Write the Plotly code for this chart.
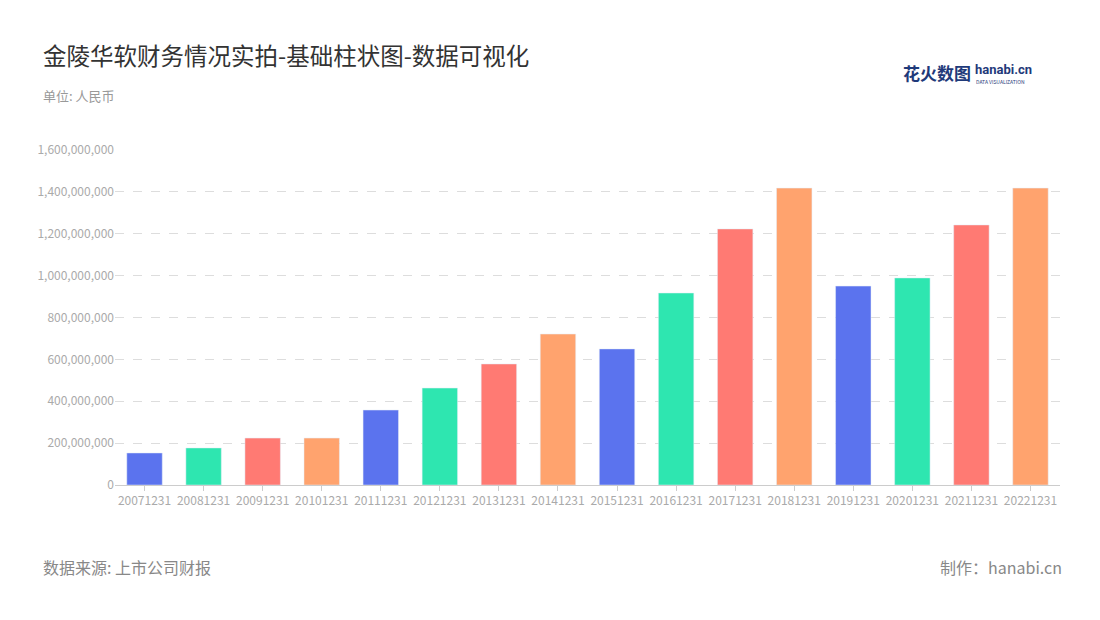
import plotly.graph_objects as go

years = ["20071231", "20081231", "20091231", "20101231", "20111231", "20121231",
         "20131231", "20141231", "20151231", "20161231", "20171231", "20181231",
         "20191231", "20201231", "20211231", "20221231"]
values = [153e6, 177e6, 224e6, 224e6, 358e6, 463e6, 578e6, 721e6, 650e6, 917e6,
          1223e6, 1418e6, 950e6, 989e6, 1242e6, 1418e6]
palette = ["#5B73EE", "#2EE6B0", "#FF7A73", "#FFA36E"]
colors = [palette[i % 4] for i in range(len(years))]

W, H = 1100, 620
L, R, T, B = 107, 48, 142, 143
OFF = 8  # page body margin

def px(x, y):
    return dict(xref="paper", yref="paper", yanchor="middle",
                x=(x - OFF - L) / (W - L - R),
                y=1 - (y - OFF - T) / (H - T - B))

font = "Noto Sans CJK SC"
fig = go.Figure(go.Bar(x=years, y=values, marker_color=colors, width=0.6))
ann = [
    dict(text="金陵华软财务情况实拍-基础柱状图-数据可视化", xanchor="left",
         font=dict(size=23.5, color="#333"), **px(41, 55)),
    dict(text="单位: 人民币", xanchor="left", font=dict(size=13, color="#999"), **px(41, 96)),
    dict(text="数据来源: 上市公司财报", xanchor="left",
         font=dict(size=16, color="#888"), **px(41, 567)),
    dict(text="制作：hanabi.cn", xanchor="right",
         font=dict(size=16, color="#888"), **px(1064, 567)),
    dict(text="<b>花火数图</b>", xanchor="right",
         font=dict(size=17, color="#1f3a7a"), **px(973, 73)),
    dict(text="<b>hanabi.cn</b>", xanchor="left",
         font=dict(size=13, color="#1f3a7a", family="Roboto"), **px(973, 70)),
    dict(text="DATA VISUALIZATION", xanchor="left",
         font=dict(size=5, color="#1f3a7a"), **px(974, 81)),
]
for a in ann:
    a["showarrow"] = False
fig.update_layout(
    width=W, height=H, plot_bgcolor="white", paper_bgcolor="white",
    margin=dict(l=L, r=R, t=T, b=B),
    font=dict(family=font, color="#999"),
    showlegend=False,
    xaxis=dict(showline=True, linecolor="#ccc", ticks="outside", tickcolor="#ccc",
               tickfont=dict(size=12, color="#aaa")),
    yaxis=dict(range=[0, 1.6e9], dtick=2e8, tickformat=",d", showgrid=True,
               gridcolor="#ddd", griddash="dash", zeroline=False,
               tickfont=dict(size=12, color="#aaa")),
    annotations=ann,
)
fig.write_html("out.html")
